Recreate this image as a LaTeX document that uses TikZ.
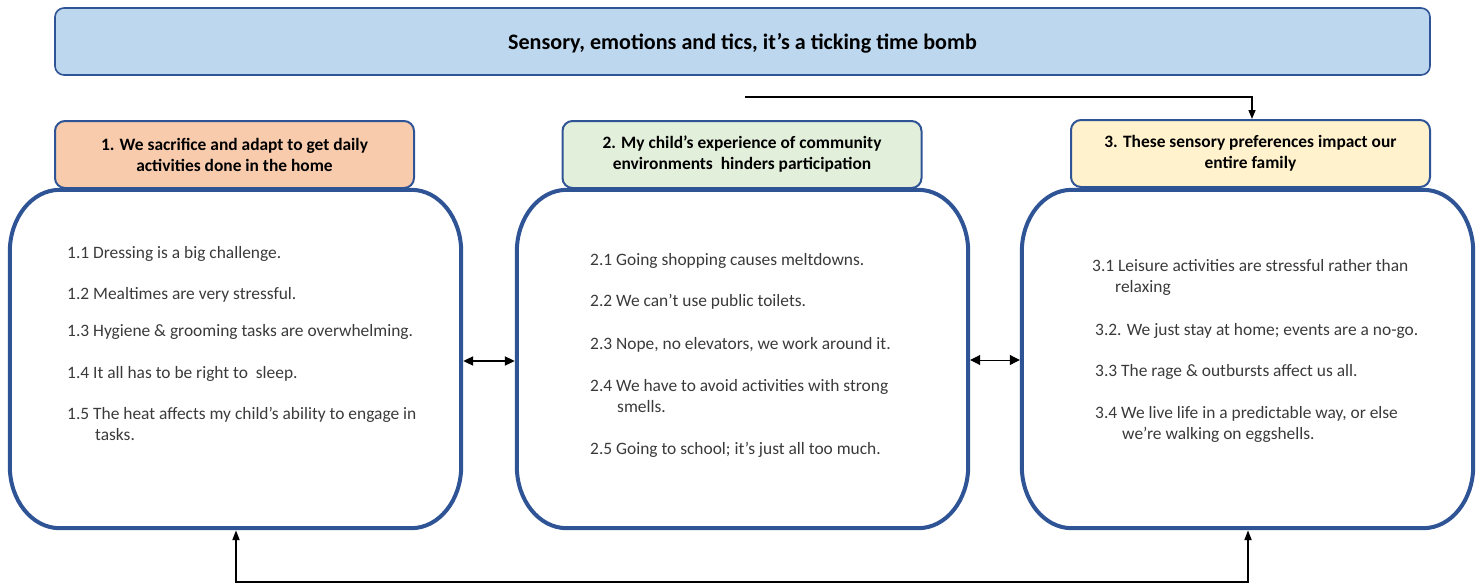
\documentclass[tikz,border=0pt]{standalone}
\usepackage{fontspec}
\setmainfont{Carlito}
\usetikzlibrary{arrows.meta,calc}

\definecolor{frameblue}{RGB}{47,84,150}
\definecolor{bannerfill}{RGB}{189,215,238}
\definecolor{peach}{RGB}{248,203,173}
\definecolor{palegreen}{RGB}{226,239,218}
\definecolor{paleyellow}{RGB}{255,242,204}
\definecolor{itemgray}{RGB}{58,58,58}

\tikzset{
  banner/.style={draw=frameblue, line width=1.6pt, fill=bannerfill, rounded corners=9pt,
    minimum width=1375pt, minimum height=67pt, inner sep=0pt,
    font=\fontsize{22.1}{26}\selectfont\bfseries},
  themehead/.style={draw=frameblue, line width=2pt, rounded corners=10pt,
    minimum width=359pt, minimum height=67pt, inner sep=0pt, align=center,
    font=\fontsize{17.4}{21}\selectfont\bfseries},
  themebody/.style={draw=none, minimum width=451pt, minimum height=338pt, inner sep=0pt},
  frameline/.style={draw=frameblue, line width=4pt, line join=round},
  item/.style={anchor=base west, inner sep=0pt, align=left, text=itemgray,
    font=\fontsize{17.4}{21}\selectfont},
  link/.style={draw=black, line width=1.5pt},
}

% big frame with soft, oval corners around a body node
\newcommand\softframe[1]{%
  \draw[frameline] ($(#1.north west)+(0,62)$)
    .. controls +(0,-34) and +(-28,0) .. ($(#1.north west)+(50,0)$)
    -- ($(#1.north east)+(-50,0)$)
    .. controls +(28,0) and +(0,-34) .. ($(#1.north east)+(0,62)$)
    -- ($(#1.south east)+(0,-62)$)
    .. controls +(0,34) and +(28,0) .. ($(#1.south east)+(-50,0)$)
    -- ($(#1.south west)+(50,0)$)
    .. controls +(-28,0) and +(0,34) .. ($(#1.south west)+(0,-62)$)
    -- cycle;}

\begin{document}
\begin{tikzpicture}[x=1pt,y=-1pt]
\useasboundingbox (0,0) rectangle (1479,586);

% banner
\node[banner, text height=21pt, text depth=5pt] (title) at (742.5,41.5) {Sensory, emotions and tics, it’s a ticking time bomb};

% theme bodies
\node[themebody] (b1) at (235.5,359) {};
\node[themebody] (b2) at (742.5,359) {};
\node[themebody] (b3) at (1247.5,359) {};
\softframe{b1}
\softframe{b2}
\softframe{b3}

% theme headers
\node[themehead, fill=peach] (h1) at (234.5,154.5) {1. We sacrifice and adapt to get daily\\activities done in the home};
\node[themehead, fill=palegreen] (h2) at (742,154.5) {2. My child’s experience of community\\environments\ \ hinders participation};
\node[themehead, fill=paleyellow] (h3) at (1250.5,153.5) {3. These sensory preferences impact our\\entire family};

% items of theme 1 (two-line items sit on the baseline of their last line)
\node[item] (t11) at (67,258) {1.1 Dressing is a big challenge.};
\node[item] (t12) at (67,299) {1.2 Mealtimes are very stressful.};
\node[item] (t13) at (67,336) {1.3 Hygiene \& grooming tasks are overwhelming.};
\node[item] (t14) at (67,378) {1.4 It all has to be right to\ \ sleep.};
\node[item] (t15) at (67,440) {1.5 The heat affects my child’s ability to engage in\\\hspace*{28pt}tasks.};

% items of theme 2
\node[item] (t21) at (590,265) {2.1 Going shopping causes meltdowns.};
\node[item] (t22) at (590,306) {2.2 We can’t use public toilets.};
\node[item] (t23) at (590,349) {2.3 Nope, no elevators, we work around it.};
\node[item] (t24) at (590,412) {2.4 We have to avoid activities with strong\\\hspace*{27pt}smells.};
\node[item] (t25) at (590,454) {2.5 Going to school; it’s just all too much.};

% items of theme 3
\node[item] (t31) at (1092,292) {3.1 Leisure activities are stressful rather than\\\hspace*{23pt}relaxing};
\node[item] (t32) at (1095,335) {3.2. We just stay at home; events are a no-go.};
\node[item] (t33) at (1095,376) {3.3 The rage \& outbursts affect us all.};
\node[item] (t34) at (1095,439) {3.4 We live life in a predictable way, or else\\\hspace*{27pt}we’re walking on eggshells.};

% connectors
\coordinate (feed) at (745,97);
\draw[link, -{Triangle[length=9pt,width=7pt]}] (feed) -| ([xshift=1.5pt]h3.north);
\draw[link, line width=2pt, {Triangle[length=10pt,width=9pt]}-{Triangle[length=10pt,width=9pt]}]
  ($(b1.east)+(2,2)$) -- ($(b2.west)+(-2,2)$);
\draw[link, line width=1pt, {Triangle[length=10pt,width=10pt]}-{Triangle[length=10pt,width=10pt]}]
  ($(b2.east)+(2,1)$) -- ($(b3.west)+(-2,1)$);
\draw[link, line width=2pt, {Triangle[length=10pt,width=7pt]}-{Triangle[length=10pt,width=7pt]}]
  ($(b1.south)+(0.5,2)$) -- ++(0,52) -| ($(b3.south)+(0.5,2)$);
\end{tikzpicture}
\end{document}
